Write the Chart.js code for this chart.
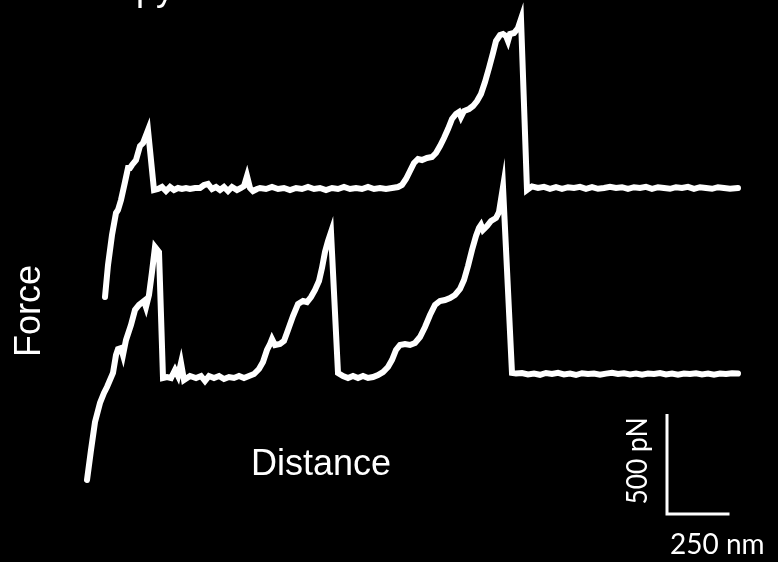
<!DOCTYPE html>
<html>
<head>
<meta charset="utf-8">
<script src="https://cdn.jsdelivr.net/npm/chart.js@4/dist/chart.umd.min.js"></script>
<style>
  body { margin: 0; background: #000; }
  #wrap { position: relative; width: 778px; height: 562px; overflow: hidden; }
</style>
</head>
<body>
<div id="wrap"><canvas id="myChart" width="778" height="562"></canvas></div>
<script>
// lower trace: distance (nm) from its first point, force (pN) above its baseline
const bottomDist = [
  0, 16, 32, 52, 68, 80, 104, 116, 124, 136, 144, 156, 176, 192, 208, 228, 236, 248, 260, 272, 288,
  304, 320, 336, 352, 364, 376, 388, 412, 436, 456, 472, 488, 508, 528, 548, 568, 588, 608, 628, 648,
  668, 688, 704, 720, 732, 740, 752, 772, 788, 804, 824, 844, 864, 880, 896, 912, 928, 940, 952, 964, 976,
  1004, 1024, 1044, 1064, 1084, 1104, 1124, 1144, 1164,
  1184, 1204, 1220, 1236, 1252, 1272, 1292, 1312, 1332, 1352, 1372, 1392, 1412, 1432, 1452, 1472, 1492, 1508,
  1524, 1540, 1556, 1568, 1576, 1584, 1600, 1616, 1636, 1648, 1664,
  1700, 1716, 1740, 1764, 1788, 1812, 1836, 1860, 1884, 1908, 1932, 1956, 1980, 2004, 2028, 2052, 2076, 2100, 2124,
  2148, 2172, 2196, 2220, 2244, 2268, 2292, 2316, 2340, 2364, 2388, 2412, 2436, 2460, 2484, 2508, 2532, 2556, 2580, 2604
];
const bottomForce = [
  -520, -370, -230, -135, -85, -55, 15, 105, 135, 140, 105, 180, 255, 330, 355, 375, 345, 405, 520, 645, 620,
  -10, -5, -10, 30, 0, 65, -20, 0, -10, 0, -25, 0, -10, 0, -15, -5, -10, 0, -10, 0,
  10, 35, 70, 130, 160, 185, 155, 160, 175, 230, 300, 360, 375, 370, 395, 430, 475, 540, 620, 675, 720,
  15, 0, -10, 0, -10, 0, -10, -5, 5,
  20, 45, 80, 130, 155, 160, 155, 165, 195, 245, 305, 355, 375, 380, 390, 405, 435, 480,
  550, 630, 700, 740, 755, 730, 750, 775, 790, 820, 945,
  15, 12, 15, 8, 12, 6, 15, 10, 16, 8, 12, 5, 14, 10, 12, 6, 12, 16, 10,
  14, 8, 12, 6, 12, 10, 15, 8, 12, 6, 12, 10, 14, 8, 12, 6, 12, 10, 14, 12
];

// upper trace, same units
const topDist = [
  0, 12, 28, 44, 52, 64, 80, 92, 100, 108, 124, 140, 152, 172,
  196, 212, 228, 244, 260, 276, 292, 308, 324, 340, 360, 380, 396, 412, 428, 444, 460, 476, 492, 508, 528,
  544, 556, 568, 580, 592, 608, 620, 644, 668, 692, 716, 740, 764, 788, 812, 836, 860, 884, 908, 932,
  956, 980, 1004, 1028, 1052, 1076, 1100, 1124, 1148, 1172,
  1188, 1204, 1220, 1236, 1252, 1268, 1288, 1308, 1324, 1340, 1356, 1372, 1388, 1404, 1416, 1424, 1436,
  1456, 1472, 1488, 1504, 1520, 1536, 1552, 1564, 1580, 1592, 1604, 1612, 1620, 1636, 1652, 1664,
  1688, 1708, 1732, 1756, 1780, 1804, 1828, 1852, 1876, 1900, 1924, 1948, 1972, 1996, 2020, 2044, 2068, 2092,
  2116, 2140, 2164, 2188, 2212, 2236, 2260, 2284, 2308, 2332, 2356, 2380, 2404, 2428, 2452, 2476, 2500, 2532
];
const topForce = [
  -545, -385, -235, -125, -110, -60, 30, 100, 100, 115, 140, 210, 225, 290,
  -10, -5, 5, -15, 5, -10, 0, -5, 0, -5, 0, 0, 15, 20, -5, 5, -10, 5, -15, 5, -10,
  0, 10, 60, 0, -15, -5, 0, -5, 5, -5, 0, -10, 0, -5, 5, -5, 0, -10, 0, -5,
  5, -5, 0, -5, 5, -5, 0, -5, 0, 5,
  15, 45, 85, 125, 145, 140, 150, 155, 175, 210, 250, 295, 345, 370, 380, 355, 385,
  395, 410, 435, 470, 530, 600, 675, 735, 765, 770, 760, 735, 770, 775, 800, 845,
  -10, 8, 0, 6, -4, 4, -4, 4, 0, 6, -4, 4, -4, 0, 6, 0, 4, -4,
  4, 0, 6, -4, 4, 0, -4, 4, 0, 6, -4, 4, 0, -4, 4, 0, -4, 0
];

// the upper trace is drawn shifted right and up
const TOP_SHIFT_NM = 72;
const TOP_SHIFT_PN = 940;

// scale bar: 250 nm by 500 pN
const barNm = 250;
const barPn = 500;
const barAt = { x: 2320, y: -690 };

function toPoints(xs, ys, dx, dy) {
  return xs.map(function (x, i) {
    return { x: x + dx, y: ys[i] + dy };
  });
}

const whiteLine = {
  borderColor: '#ffffff',
  borderWidth: 6,
  borderCapStyle: 'round',
  borderJoinStyle: 'miter',
  pointRadius: 0,
  tension: 0,
  fill: false
};

// sharp tips on the rupture peaks
const miterPlugin = {
  id: 'miter',
  beforeDatasetsDraw: function (chart) {
    chart.ctx.miterLimit = 40;
  }
};

// texts drawn straight on the canvas
const labelsPlugin = {
  id: 'labels',
  afterDraw: function (chart) {
    const ctx = chart.ctx;
    ctx.save();
    ctx.fillStyle = '#ffffff';

    ctx.font = '36px "Liberation Sans", Arial, sans-serif';
    ctx.textBaseline = 'alphabetic';
    ctx.textAlign = 'left';
    ctx.fillText('py', 136, 0);

    ctx.textAlign = 'center';
    ctx.fillText('Distance', 321, 475);

    ctx.save();
    ctx.translate(40, 311);
    ctx.rotate(-Math.PI / 2);
    ctx.fillText('Force', 0, 0);
    ctx.restore();

    ctx.font = '28px Lato, "Open Sans", sans-serif';
    ctx.textAlign = 'left';
    ctx.fillText('250 nm', 670, 554, 95);

    ctx.save();
    ctx.translate(647, 461);
    ctx.rotate(-Math.PI / 2);
    ctx.textAlign = 'center';
    ctx.fillText('500 pN', 0, 0, 87);
    ctx.restore();

    ctx.restore();
  }
};

const ctx = document.getElementById('myChart').getContext('2d');
const chart = new Chart(ctx, {
  type: 'line',
  data: {
    datasets: [
      Object.assign({ data: toPoints(topDist, topForce, TOP_SHIFT_NM, TOP_SHIFT_PN) }, whiteLine),
      Object.assign({ data: toPoints(bottomDist, bottomForce, 0, 0) }, whiteLine),
      {
        data: [
          { x: barAt.x, y: barAt.y + barPn },
          { x: barAt.x, y: barAt.y },
          { x: barAt.x + barNm, y: barAt.y }
        ],
        borderColor: '#ffffff',
        borderWidth: 3,
        borderJoinStyle: 'miter',
        pointRadius: 0,
        fill: false
      }
    ]
  },
  options: {
    responsive: false,
    animation: false,
    devicePixelRatio: 1,
    layout: { padding: 0 },
    scales: {
      x: { type: 'linear', display: false, min: -348, max: 2764 },
      y: { type: 'linear', display: false, min: -930, max: 1880 }
    },
    plugins: {
      legend: { display: false },
      tooltip: { enabled: false }
    }
  },
  plugins: [miterPlugin, labelsPlugin]
});
</script>
</body>
</html>
